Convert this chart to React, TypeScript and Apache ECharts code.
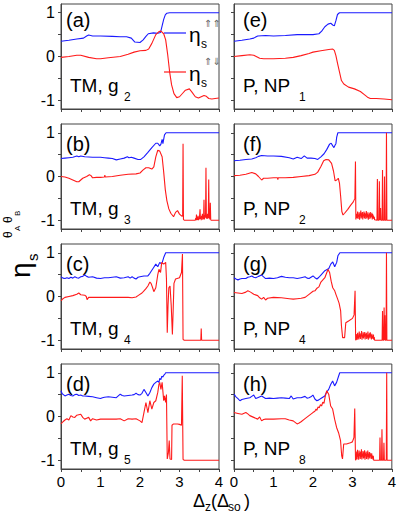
import React, { useEffect, useRef } from 'react';
import * as echarts from 'echarts';

const xLabels = [0, 1, 2, 3, 4];
const xTickVals = [0, 0.5, 1, 1.5, 2, 2.5, 3, 3.5, 4];
const yLabels = [-1, 0, 1];
const yTickVals = [-1, -0.5, 0, 0.5, 1];

const aBlue = [[0,0.35],[0.2,0.37],[0.4,0.4],[0.57,0.42],[0.65,0.47],[0.7,0.49],[0.8,0.47],[1.0,0.47],[1.3,0.46],[1.5,0.45],[1.66,0.45],[1.78,0.42],[1.87,0.33],[2.0,0.32],[2.08,0.38],[2.15,0.46],[2.21,0.52],[2.34,0.54],[2.45,0.53],[2.52,0.55],[2.56,0.7],[2.6,0.85],[2.64,0.95],[2.68,0.99],[2.75,1.0],[4,1.0]];
const aRed = [[0,-0.02],[0.2,0.0],[0.4,0.03],[0.5,0.03],[0.7,-0.02],[0.9,-0.05],[1.0,-0.05],[1.2,-0.03],[1.5,0.0],[1.7,0.05],[1.85,0.1],[2.0,0.13],[2.15,0.14],[2.22,0.17],[2.3,0.3],[2.4,0.5],[2.48,0.57],[2.53,0.58],[2.6,0.52],[2.65,0.38],[2.7,0.05],[2.75,-0.35],[2.8,-0.65],[2.86,-0.85],[2.93,-0.94],[3.0,-0.92],[3.08,-0.84],[3.15,-0.77],[3.25,-0.74],[3.32,-0.82],[3.4,-0.92],[3.48,-0.95],[3.55,-0.92],[3.62,-0.89],[3.68,-0.91],[3.74,-0.96],[3.82,-0.97],[3.9,-0.96],[4.0,-0.95]];

const bBlue = [[0,0.41],[0.1,0.42],[0.2,0.43],[0.3,0.44],[0.4,0.47],[0.45,0.45],[0.5,0.47],[0.6,0.45],[0.8,0.44],[1.0,0.44],[1.1,0.43],[1.2,0.42],[1.3,0.41],[1.4,0.38],[1.5,0.4],[1.6,0.42],[1.68,0.45],[1.72,0.43],[1.78,0.44],[1.85,0.42],[1.95,0.39],[2.02,0.39],[2.1,0.45],[2.2,0.55],[2.3,0.66],[2.4,0.76],[2.45,0.76],[2.5,0.7],[2.53,0.74],[2.56,0.85],[2.58,0.75],[2.62,0.95],[2.66,1.0],[4,1.0]];
const bRed = [[0,0.0],[0.1,-0.01],[0.2,-0.04],[0.3,-0.08],[0.4,-0.12],[0.45,-0.12],[0.5,-0.08],[0.55,-0.04],[0.65,0.0],[0.72,0.04],[0.76,0.02],[0.8,-0.03],[0.9,-0.02],[1.0,-0.02],[1.1,-0.01],[1.11,0.03],[1.12,-0.01],[1.3,0.0],[1.5,0.03],[1.7,0.05],[1.9,0.06],[2.0,0.08],[2.08,0.15],[2.15,0.2],[2.22,0.2],[2.3,0.17],[2.35,0.22],[2.4,0.45],[2.45,0.6],[2.5,0.58],[2.56,0.45],[2.6,0.1],[2.64,-0.3],[2.68,-0.55],[2.73,-0.74],[2.78,-0.84],[2.85,-0.92],[2.9,-0.82],[2.95,-0.78],[3.0,-0.86],[3.05,-0.9],[3.08,-0.91],[3.09,0.75],[3.1,-0.98],[3.12,-1.0],[3.4,-1.0],[3.41,-0.95],[3.42,-1.0],[3.43,-0.87],[3.44,-1.0],[3.45,-0.93],[3.46,-0.99],[3.47,-0.9],[3.48,-1.0],[3.49,-0.94],[3.5,-0.98],[3.51,-0.88],[3.52,-0.75],[3.53,-0.97],[3.54,-0.92],[3.55,-1.0],[3.56,-0.9],[3.57,-0.96],[3.58,-0.85],[3.59,-0.99],[3.6,-0.91],[3.61,-0.97],[3.62,-0.53],[3.63,-0.98],[3.64,-0.88],[3.65,-0.94],[3.66,-0.9],[3.67,0.2],[3.68,-0.96],[3.69,-0.9],[3.7,-0.97],[3.71,-0.85],[3.72,-0.95],[3.73,-0.9],[3.74,-0.07],[3.75,-0.96],[3.76,-0.9],[3.77,-0.98],[3.78,-0.6],[3.79,-0.98],[3.8,-1.0],[4,-1.0]];

const cBlue = [[0,0.45],[0.05,0.42],[0.1,0.41],[0.15,0.43],[0.2,0.41],[0.25,0.44],[0.3,0.42],[0.35,0.45],[0.4,0.43],[0.45,0.42],[0.5,0.45],[0.55,0.46],[0.6,0.49],[0.65,0.46],[0.7,0.44],[0.8,0.45],[0.9,0.42],[1.0,0.41],[1.1,0.43],[1.2,0.43],[1.3,0.44],[1.4,0.45],[1.5,0.42],[1.6,0.43],[1.7,0.45],[1.75,0.42],[1.8,0.45],[1.85,0.42],[1.9,0.4],[1.95,0.44],[2.0,0.45],[2.1,0.47],[2.2,0.47],[2.25,0.53],[2.3,0.6],[2.35,0.67],[2.4,0.74],[2.45,0.68],[2.5,0.78],[2.55,0.74],[2.6,0.89],[2.65,1.0],[4,1.0]];
const cRed = [[0,-0.1],[0.05,-0.05],[0.1,-0.02],[0.2,0.0],[0.3,0.02],[0.4,0.05],[0.45,0.08],[0.5,0.04],[0.6,0.03],[0.64,0.0],[0.66,-0.07],[0.7,-0.02],[0.8,-0.02],[1.0,-0.02],[1.2,-0.02],[1.5,-0.02],[1.7,-0.02],[1.8,-0.03],[1.9,-0.01],[1.95,0.02],[2.05,0.08],[2.1,0.13],[2.15,0.18],[2.2,0.24],[2.25,0.33],[2.28,0.3],[2.32,0.2],[2.35,0.11],[2.4,0.2],[2.45,0.5],[2.48,0.62],[2.52,0.55],[2.55,0.78],[2.6,0.74],[2.65,0.78],[2.67,0.4],[2.69,-0.83],[2.71,-0.2],[2.73,0.2],[2.76,0.24],[2.79,-0.2],[2.82,-0.87],[2.84,-0.3],[2.86,0.3],[2.9,0.4],[3.0,0.43],[3.05,0.55],[3.075,0.97],[3.09,-0.98],[3.12,-1.0],[3.54,-1.0],[3.55,-0.73],[3.56,-1.0],[4,-1.0]];

const dBlue = [[0,0.59],[0.03,0.52],[0.06,0.5],[0.1,0.47],[0.15,0.49],[0.2,0.51],[0.25,0.48],[0.3,0.47],[0.35,0.5],[0.4,0.51],[0.45,0.48],[0.5,0.49],[0.55,0.47],[0.6,0.47],[0.7,0.46],[0.8,0.45],[0.9,0.43],[1.0,0.41],[1.05,0.43],[1.1,0.44],[1.2,0.45],[1.3,0.44],[1.4,0.43],[1.45,0.47],[1.5,0.51],[1.55,0.48],[1.6,0.47],[1.7,0.48],[1.8,0.49],[1.85,0.5],[1.9,0.53],[1.95,0.5],[2.0,0.49],[2.05,0.53],[2.1,0.62],[2.15,0.55],[2.2,0.47],[2.25,0.55],[2.3,0.66],[2.35,0.74],[2.4,0.78],[2.45,0.81],[2.48,0.78],[2.5,0.87],[2.53,0.84],[2.55,0.92],[2.58,0.9],[2.6,0.94],[2.63,0.97],[2.65,1.0],[4,1.0]];
const dRed = [[0,-0.17],[0.05,-0.12],[0.1,-0.08],[0.15,-0.05],[0.2,-0.08],[0.25,0.02],[0.3,-0.01],[0.35,-0.02],[0.4,0.03],[0.5,0.05],[0.55,-0.02],[0.6,-0.06],[0.65,-0.04],[0.7,-0.02],[0.75,-0.1],[0.8,-0.05],[0.9,-0.08],[1.0,-0.06],[1.2,-0.06],[1.4,-0.06],[1.5,-0.05],[1.6,-0.1],[1.7,-0.05],[1.8,-0.06],[1.9,-0.05],[2.0,-0.1],[2.05,-0.14],[2.1,0.09],[2.15,0.32],[2.2,0.09],[2.25,0.36],[2.3,0.17],[2.35,0.32],[2.4,0.36],[2.45,0.55],[2.48,0.74],[2.5,0.78],[2.53,0.62],[2.56,0.78],[2.6,0.36],[2.62,0.47],[2.65,0.32],[2.67,0.5],[2.69,-0.97],[2.72,-0.82],[2.74,-0.55],[2.76,-0.97],[2.8,-0.98],[2.81,-0.2],[2.85,-0.17],[2.95,-0.17],[3.0,-0.18],[3.05,-0.2],[3.07,0.93],[3.09,-0.98],[3.12,-1.0],[4,-1.0]];

const eBlue = [[0,0.35],[0.2,0.37],[0.4,0.4],[0.5,0.42],[0.6,0.47],[0.8,0.48],[1.0,0.47],[1.3,0.48],[1.6,0.5],[2.0,0.5],[2.15,0.52],[2.22,0.58],[2.3,0.68],[2.38,0.74],[2.45,0.76],[2.5,0.72],[2.54,0.7],[2.58,0.82],[2.62,0.96],[2.67,1.0],[4,1.0]];
const eRed = [[0,0.0],[0.2,0.02],[0.4,0.04],[0.5,0.03],[0.65,-0.04],[0.75,-0.05],[1.0,-0.05],[1.3,-0.04],[1.5,-0.02],[1.7,0.02],[1.9,0.07],[2.0,0.1],[2.2,0.13],[2.4,0.16],[2.5,0.17],[2.54,0.14],[2.58,0.02],[2.62,-0.15],[2.67,-0.35],[2.72,-0.55],[2.78,-0.63],[2.9,-0.7],[3.05,-0.74],[3.2,-0.8],[3.3,-0.87],[3.38,-0.93],[3.45,-0.96],[3.6,-0.96],[3.8,-0.97],[4.0,-0.99]];

const fBlue = [[0,0.36],[0.15,0.37],[0.3,0.39],[0.45,0.4],[0.55,0.43],[0.62,0.46],[0.7,0.48],[0.85,0.47],[1.0,0.47],[1.2,0.46],[1.4,0.43],[1.5,0.4],[1.6,0.44],[1.7,0.41],[1.78,0.47],[1.85,0.42],[1.95,0.42],[2.05,0.41],[2.12,0.39],[2.2,0.45],[2.28,0.52],[2.35,0.62],[2.42,0.74],[2.46,0.76],[2.5,0.7],[2.53,0.66],[2.56,0.72],[2.58,0.75],[2.6,0.9],[2.63,1.0],[4,1.0]];
const fRed = [[0,0.02],[0.15,0.03],[0.3,0.05],[0.45,0.09],[0.55,0.06],[0.62,0.0],[0.7,-0.08],[0.75,-0.04],[0.85,-0.04],[1.0,-0.03],[1.1,-0.03],[1.11,-0.07],[1.12,-0.03],[1.3,-0.03],[1.5,-0.02],[1.7,0.0],[1.9,0.02],[2.05,0.05],[2.12,0.1],[2.2,0.23],[2.27,0.36],[2.33,0.39],[2.4,0.38],[2.47,0.3],[2.52,0.12],[2.56,-0.1],[2.6,-0.08],[2.64,-0.04],[2.67,-0.15],[2.7,-0.45],[2.73,-0.8],[2.76,-0.88],[2.8,-0.84],[2.88,-0.75],[2.95,-0.66],[3.02,-0.58],[3.06,-0.5],[3.075,0.34],[3.085,-0.98],[3.1,-0.98],[3.11,-0.85],[3.12,-0.95],[3.13,-0.8],[3.14,-0.97],[3.15,-0.88],[3.16,-0.92],[3.17,-0.82],[3.18,-0.99],[3.19,-0.86],[3.2,-0.9],[3.21,-0.78],[3.22,-0.96],[3.23,-0.84],[3.24,-0.93],[3.25,-0.81],[3.26,-0.98],[3.27,-0.87],[3.28,-0.9],[3.29,-0.8],[3.3,-0.95],[3.31,-0.83],[3.32,-0.97],[3.33,-0.86],[3.34,-0.91],[3.35,-0.79],[3.36,-0.96],[3.37,-0.85],[3.38,-0.93],[3.39,-0.82],[3.4,-0.99],[3.41,-0.88],[3.42,-0.9],[3.43,-0.84],[3.44,-0.97],[3.45,-0.81],[3.46,-0.94],[3.47,-0.87],[3.48,-0.92],[3.49,-0.83],[3.5,-0.98],[3.51,-0.86],[3.52,-0.95],[3.53,-0.89],[3.54,-0.97],[3.55,-0.92],[3.56,-0.99],[3.57,-1.0],[3.62,-1.0],[3.63,-0.06],[3.64,-1.0],[3.67,-1.0],[3.68,-0.11],[3.69,-1.0],[3.7,-1.0],[3.71,-0.72],[3.72,-1.0],[3.75,-1.0],[3.76,0.15],[3.77,-1.0],[3.8,-1.0],[3.81,0.0],[3.82,-1.0],[3.85,-1.0],[3.86,1.0],[3.87,-1.0],[4,-1.0]];

const gBlue = [[0,0.43],[0.05,0.4],[0.1,0.38],[0.15,0.4],[0.2,0.41],[0.3,0.41],[0.35,0.44],[0.4,0.45],[0.45,0.47],[0.5,0.44],[0.55,0.43],[0.62,0.46],[0.7,0.49],[0.75,0.45],[0.8,0.41],[0.9,0.42],[1.0,0.41],[1.1,0.43],[1.2,0.46],[1.3,0.44],[1.4,0.43],[1.5,0.43],[1.6,0.41],[1.7,0.43],[1.8,0.45],[1.85,0.42],[1.9,0.41],[1.95,0.44],[2.0,0.47],[2.05,0.43],[2.1,0.4],[2.15,0.44],[2.2,0.49],[2.3,0.59],[2.4,0.64],[2.45,0.74],[2.5,0.79],[2.55,0.68],[2.6,0.78],[2.63,0.93],[2.68,1.0],[4,1.0]];
const gRed = [[0,0.09],[0.1,0.08],[0.2,0.07],[0.3,0.1],[0.35,0.13],[0.42,0.1],[0.5,0.05],[0.6,0.02],[0.65,-0.03],[0.7,-0.06],[0.75,-0.02],[0.8,-0.08],[0.85,-0.04],[1.0,-0.02],[1.2,-0.03],[1.4,-0.05],[1.5,-0.06],[1.6,-0.05],[1.7,-0.04],[1.8,-0.02],[1.9,0.05],[2.0,0.12],[2.05,0.13],[2.1,0.19],[2.15,0.22],[2.2,0.33],[2.25,0.38],[2.3,0.43],[2.35,0.55],[2.38,0.62],[2.42,0.55],[2.46,0.35],[2.5,0.2],[2.55,0.13],[2.58,0.05],[2.62,-0.05],[2.66,-0.15],[2.7,-0.33],[2.72,-0.67],[2.75,-0.94],[2.8,-0.94],[2.83,-0.6],[2.9,-0.56],[3.0,-0.5],[3.04,-0.42],[3.065,0.13],[3.08,-1.0],[3.1,-0.97],[3.11,-0.86],[3.12,-0.99],[3.13,-0.83],[3.14,-0.95],[3.15,-0.89],[3.16,-0.98],[3.17,-0.8],[3.18,-0.93],[3.19,-0.87],[3.2,-0.97],[3.21,-0.84],[3.22,-0.91],[3.23,-0.79],[3.24,-0.99],[3.25,-0.88],[3.26,-0.94],[3.27,-0.82],[3.28,-0.96],[3.29,-0.85],[3.3,-0.92],[3.31,-0.81],[3.32,-0.98],[3.33,-0.86],[3.34,-0.9],[3.35,-0.83],[3.36,-0.97],[3.37,-0.88],[3.38,-0.94],[3.39,-0.8],[3.4,-0.99],[3.41,-0.87],[3.42,-0.93],[3.43,-0.84],[3.44,-0.96],[3.45,-0.82],[3.46,-0.91],[3.47,-0.88],[3.48,-0.98],[3.49,-0.85],[3.5,-0.95],[3.51,-0.9],[3.52,-0.97],[3.53,-0.87],[3.54,-0.99],[3.55,-0.93],[3.56,-1.0],[3.75,-1.0],[3.76,-0.33],[3.77,-1.0],[3.79,-1.0],[3.8,-0.25],[3.81,-1.0],[3.82,-0.43],[3.83,-1.0],[3.85,-1.0],[3.86,1.0],[3.87,-1.0],[4,-1.0]];

const hBlue = [[0,0.51],[0.05,0.45],[0.1,0.41],[0.15,0.36],[0.2,0.39],[0.3,0.41],[0.4,0.43],[0.45,0.46],[0.5,0.49],[0.55,0.41],[0.6,0.43],[0.7,0.47],[0.8,0.41],[0.9,0.42],[1.0,0.41],[1.1,0.42],[1.2,0.43],[1.3,0.42],[1.4,0.41],[1.45,0.47],[1.5,0.4],[1.6,0.43],[1.7,0.43],[1.8,0.46],[1.85,0.42],[1.9,0.43],[1.95,0.45],[2.0,0.49],[2.05,0.4],[2.1,0.36],[2.15,0.38],[2.2,0.41],[2.3,0.47],[2.35,0.56],[2.4,0.62],[2.45,0.73],[2.5,0.81],[2.55,0.7],[2.6,0.78],[2.65,0.92],[2.68,1.0],[4,1.0]];
const hRed = [[0,0.09],[0.1,0.07],[0.2,0.05],[0.3,0.09],[0.35,0.06],[0.4,0.02],[0.5,-0.02],[0.6,-0.06],[0.65,-0.01],[0.7,-0.1],[0.75,-0.07],[0.8,-0.06],[1.0,-0.06],[1.2,-0.05],[1.3,-0.05],[1.4,-0.08],[1.5,-0.1],[1.6,-0.17],[1.65,-0.15],[1.7,-0.12],[1.8,-0.05],[1.9,0.02],[2.0,0.09],[2.05,0.12],[2.08,0.17],[2.1,0.14],[2.13,0.22],[2.16,0.2],[2.19,0.27],[2.22,0.24],[2.25,0.33],[2.28,0.3],[2.31,0.45],[2.35,0.59],[2.4,0.51],[2.45,0.24],[2.5,0.17],[2.55,-0.06],[2.6,-0.25],[2.65,-0.37],[2.7,-0.55],[2.73,-0.9],[2.75,-0.97],[2.78,-0.63],[2.85,-0.63],[2.95,-0.6],[3.0,-0.58],[3.04,-0.48],[3.06,0.18],[3.08,-1.0],[3.1,-0.95],[3.11,-0.8],[3.12,-0.98],[3.13,-0.76],[3.14,-0.92],[3.15,-0.85],[3.16,-0.99],[3.17,-0.78],[3.18,-0.9],[3.19,-0.83],[3.2,-0.97],[3.21,-0.8],[3.22,-0.93],[3.23,-0.75],[3.24,-0.98],[3.25,-0.86],[3.26,-0.91],[3.27,-0.79],[3.28,-0.96],[3.29,-0.82],[3.3,-0.94],[3.31,-0.77],[3.32,-0.99],[3.33,-0.84],[3.34,-0.9],[3.35,-0.8],[3.36,-0.97],[3.37,-0.86],[3.38,-0.92],[3.39,-0.78],[3.4,-0.98],[3.41,-0.85],[3.42,-0.93],[3.43,-0.81],[3.44,-0.96],[3.45,-0.83],[3.46,-0.9],[3.47,-0.87],[3.48,-0.97],[3.49,-0.84],[3.5,-0.95],[3.51,-0.89],[3.52,-0.98],[3.53,-0.9],[3.54,-1.0],[3.69,-1.0],[3.7,-0.48],[3.71,-1.0],[3.74,-1.0],[3.75,-0.29],[3.76,-1.0],[3.79,-1.0],[3.8,-0.6],[3.81,-1.0],[3.86,-1.0],[3.87,1.0],[3.88,-1.0],[4,-1.0]];

const blueSeries = [aBlue, bBlue, cBlue, dBlue, eBlue, fBlue, gBlue, hBlue];
const redSeries = [aRed, bRed, cRed, dRed, eRed, fRed, gRed, hRed];
const panelLetters = ['(a)', '(b)', '(c)', '(d)', '(e)', '(f)', '(g)', '(h)'];
const panelNames = ['TM, g', 'TM, g', 'TM, g', 'TM, g', 'P, NP', 'P, NP', 'P, NP', 'P, NP'];
const panelSubs = ['2', '3', '4', '5', '1', '2', '4', '8'];

const FONT = '"Liberation Sans", Arial, "DejaVu Sans", sans-serif';
const BLUE = '#1a1aff';
const RED = '#ff1a1a';
const FRAME = '#444';
const COL_LEFT = [61, 234];
const ROW_TOP = [4, 124, 244, 364];
const PW = 158;
const PH = 105;

function txt(text: string, x: number, base: number, size: number, extra: any = {}) {
  return {
    type: 'text',
    x,
    y: base - 0.35 * size,
    silent: true,
    style: {
      text,
      fontSize: size,
      fontFamily: FONT,
      fill: extra.fill || '#000',
      align: extra.align || 'left',
      verticalAlign: 'middle',
    },
  };
}

export default function App() {
  const ref = useRef<HTMLDivElement>(null);
  useEffect(() => {
    if (!ref.current) return;
    const chart = echarts.init(ref.current, null, { renderer: 'svg' });
    const grids: any[] = [];
    const xAxes: any[] = [];
    const yAxes: any[] = [];
    const series: any[] = [];
    const graphics: any[] = [];
    for (let i = 0; i < 8; i++) {
      const col = i < 4 ? 0 : 1;
      const row = i % 4;
      const left = COL_LEFT[col];
      const top = ROW_TOP[row];
      grids.push({ left, top, width: PW, height: PH, show: true, borderColor: FRAME, borderWidth: 1, backgroundColor: 'transparent' });
      xAxes.push({
        type: 'value', gridIndex: i, min: 0, max: 4, position: 'bottom',
        axisLine: { show: true, onZero: false, lineStyle: { color: FRAME, width: 1 } },
        axisTick: { show: true, length: 3, customValues: xTickVals, lineStyle: { color: FRAME } },
        axisLabel: { show: row === 3, customValues: xLabels, fontSize: 15, color: '#000', fontFamily: FONT, margin: 5 },
        splitLine: { show: false },
      });
      yAxes.push({
        type: 'value', gridIndex: i, min: -1.2, max: 1.2, position: 'left',
        axisLine: { show: true, onZero: false, lineStyle: { color: FRAME, width: 1 } },
        axisTick: { show: true, length: 3, customValues: yTickVals, lineStyle: { color: FRAME } },
        axisLabel: { show: col === 0, customValues: yLabels, fontSize: 16, color: '#000', fontFamily: FONT, margin: 6 },
        splitLine: { show: false },
      });
      series.push({
        type: 'line', xAxisIndex: i, yAxisIndex: i, data: blueSeries[i], showSymbol: false, symbol: 'none',
        lineStyle: { color: BLUE, width: 1.1 }, silent: true, clip: true,
      });
      series.push({
        type: 'line', xAxisIndex: i, yAxisIndex: i, data: redSeries[i], showSymbol: false, symbol: 'none',
        lineStyle: { color: RED, width: 1.1 }, silent: true, clip: true,
      });
      const letterDx = col === 0 ? 5 : 9;
      const letterBase = row === 0 ? 23 : 27;
      graphics.push(txt(panelLetters[i], left + letterDx, top + letterBase, 20));
      const nameBase = row === 0 ? 88 : 91;
      graphics.push(txt(panelNames[i], left + 9, top + nameBase, 19));
      graphics.push(txt(panelSubs[i], left + (col === 0 ? 63 : 65), top + nameBase + 9, 12));
    }
    // legend in panel (a)
    graphics.push({ type: 'line', silent: true, shape: { x1: 164, y1: 33, x2: 186, y2: 33 }, style: { stroke: BLUE, lineWidth: 1.2 } });
    graphics.push(txt('η', 189, 42, 21));
    graphics.push(txt('s', 201, 48, 12));
    graphics.push(txt('⇑⇑', 204, 27, 10, { fill: '#666' }));
    graphics.push({ type: 'line', silent: true, shape: { x1: 164, y1: 72, x2: 186, y2: 72 }, style: { stroke: RED, lineWidth: 1.2 } });
    graphics.push(txt('η', 189, 80.5, 21));
    graphics.push(txt('s', 201, 87, 12));
    graphics.push(txt('⇑⇓', 204, 65, 10, { fill: '#666' }));
    // x-axis title
    graphics.push(txt('Δ', 193, 507, 18));
    graphics.push(txt('z', 205, 511, 12));
    graphics.push(txt('(Δ', 211, 507, 18));
    graphics.push(txt('so', 228, 511, 12));
    graphics.push(txt(')', 244, 507, 18));
    // y-axis title (rotated)
    graphics.push({
      type: 'group', x: 30, y: 278, rotation: Math.PI / 2, silent: true,
      children: [
        txt('η', 0, 0, 28),
        txt('s', 17, 8, 15),
        txt('θ', 40, -18, 12),
        txt('A', 47, -10, 8),
        txt('θ', 55, -18, 12),
        txt('B', 62, -10, 8),
      ],
    });
    chart.setOption({
      animation: false,
      grid: grids,
      xAxis: xAxes,
      yAxis: yAxes,
      series,
      graphic: graphics,
    });
    return () => chart.dispose();
  }, []);
  return <div ref={ref} style={{ position: 'absolute', left: 0, top: 0, width: 399, height: 517 }} />;
}
